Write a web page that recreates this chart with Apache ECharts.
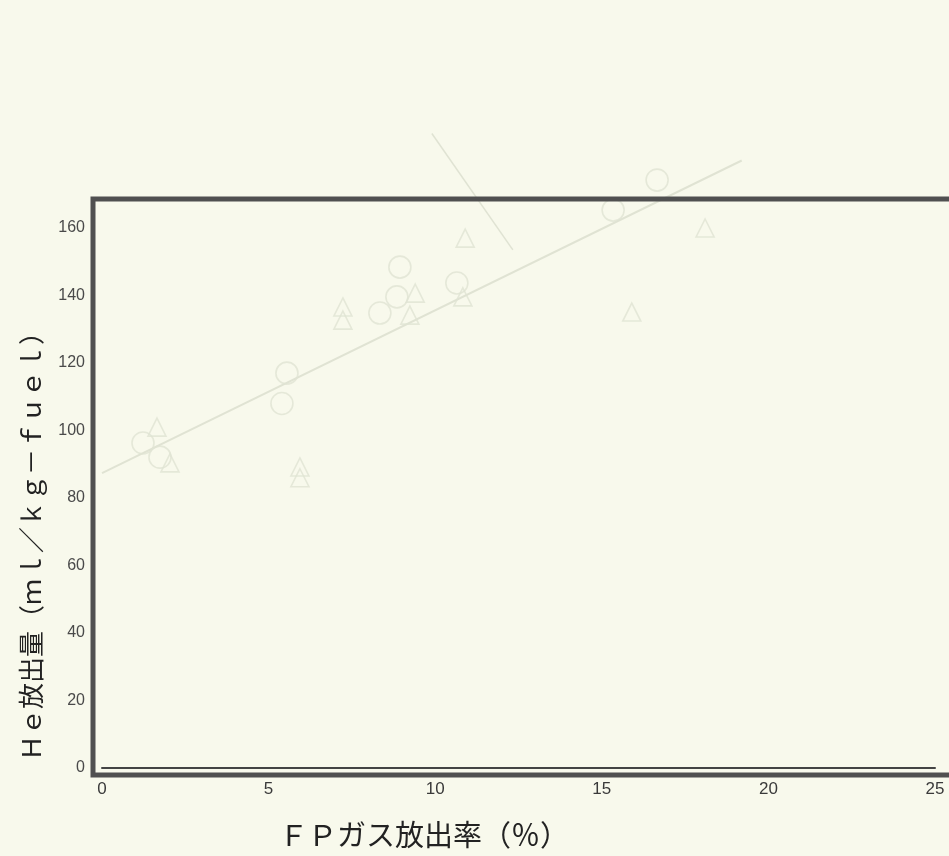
<!DOCTYPE html>
<html>
<head>
<meta charset="utf-8">
<script src="https://cdn.jsdelivr.net/npm/echarts@6/dist/echarts.min.js"></script>
<style>
  html, body { margin: 0; padding: 0; background: #f8f9ec; }
  #chart { width: 949px; height: 856px; }
</style>
</head>
<body>
<div id="chart"></div>
<script>
// Axis ranges and tick labels
const xTicks = [0, 5, 10, 15, 20, 25];
const yTicks = [0, 20, 40, 60, 80, 100, 120, 140, 160];

// Faint measurement points: [FP gas release (%), He release (ml/kg-fuel)]
const circlePoints = [
  [1.23, 96.3], [1.74, 92.1],
  [5.55, 117.0], [5.40, 108.0],
  [8.34, 134.8], [8.94, 148.4], [8.85, 139.6],
  [10.65, 143.7],
  [15.34, 165.3], [16.66, 174.2]
];
const trianglePoints = [
  [1.65, 101.0], [2.04, 90.4],
  [5.94, 89.2], [5.94, 86.0],
  [7.23, 136.6], [7.23, 132.7],
  [9.40, 140.7], [9.24, 134.2],
  [10.83, 139.6], [10.90, 157.0],
  [18.10, 160.0], [15.90, 135.1]
];
// Fitted trend line and pointer line
const fitLine = [[0, 87.4], [19.2, 180.0]];
const pointerLine = [[9.9, 188.0], [12.33, 153.5]];

const ghost = '#e0e3d3';
const chart = echarts.init(document.getElementById('chart'), null, { renderer: 'canvas' });

chart.setOption({
  backgroundColor: '#f8f9ec',
  animation: false,
  grid: { left: 102, right: 14, top: 228, bottom: 88, containLabel: false },
  xAxis: {
    type: 'value', min: 0, max: 25, interval: 5,
    axisLine: { show: true, onZero: false, lineStyle: { color: '#444', width: 2 } },
    axisTick: { show: false },
    splitLine: { show: false },
    axisLabel: {
      margin: 13, color: '#3a3a3a', fontSize: 17,
      fontFamily: '"Liberation Sans Narrow", "Liberation Sans", Arial, sans-serif',
      showMinLabel: true, showMaxLabel: true
    }
  },
  yAxis: {
    type: 'value', min: 0, max: 160, interval: 20,
    axisLine: { show: false },
    axisTick: { show: false },
    splitLine: { show: false },
    axisLabel: {
      margin: 17, color: '#4a4a4a', fontSize: 16,
      fontFamily: '"Liberation Sans", Arial, sans-serif'
    }
  },
  series: [
    {
      type: 'line', data: fitLine, clip: false, symbol: 'none', silent: true,
      lineStyle: { color: ghost, width: 2 }, z: 1
    },
    {
      type: 'line', data: pointerLine, clip: false, symbol: 'none', silent: true,
      lineStyle: { color: ghost, width: 1.5 }, z: 1
    },
    {
      type: 'scatter', data: circlePoints, clip: false, symbol: 'circle', symbolSize: 22,
      itemStyle: { color: 'rgba(0,0,0,0)', borderColor: ghost, borderWidth: 1.6 }, z: 2
    },
    {
      type: 'scatter', data: trianglePoints, clip: false, symbol: 'triangle', symbolSize: 18,
      itemStyle: { color: 'rgba(0,0,0,0)', borderColor: ghost, borderWidth: 1.6 }, z: 2
    }
  ],
  graphic: [
    {
      type: 'rect', z: 100, silent: true,
      shape: { x: 93, y: 199, width: 880, height: 576 },
      style: { fill: null, stroke: '#505050', lineWidth: 5 }
    },
    {
      type: 'text', z: 100, silent: true,
      x: 424, y: 835,
      style: {
        text: 'ＦＰガス放出率（％）', fill: '#222',
        font: '29px "Noto Sans CJK JP", sans-serif',
        align: 'center', verticalAlign: 'middle'
      }
    },
    {
      type: 'text', z: 100, silent: true,
      x: 31, y: 540, rotation: Math.PI / 2,
      style: {
        text: 'Ｈｅ放出量（ｍｌ／ｋｇ－ｆｕｅｌ）', fill: '#222',
        font: '26px "Noto Sans CJK JP", sans-serif',
        align: 'center', verticalAlign: 'middle'
      }
    }
  ]
});
</script>
</body>
</html>
